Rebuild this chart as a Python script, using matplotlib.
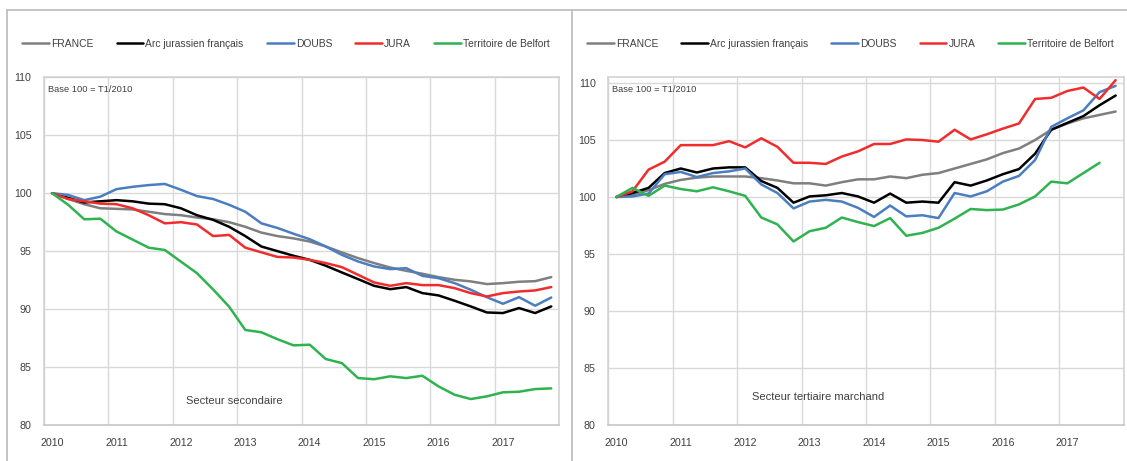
import matplotlib
matplotlib.use('Agg')
import matplotlib.pyplot as plt
import matplotlib.ticker as ticker
from matplotlib.lines import Line2D
import numpy as np

# ========== data (index 100 = T1/2010, quarterly) ========== #
years = ['2010', '2011', '2012', '2013', '2014', '2015', '2016', '2017']
series_names = ['FRANCE', 'Arc jurassien français', 'DOUBS', 'JURA', 'Territoire de Belfort']

# secteur secondaire
sec_france = [100, 99.5, 99.05, 98.7, 98.65, 98.6, 98.4, 98.2, 98.1, 97.9, 97.75, 97.5,
              97.1, 96.6, 96.3, 96.1, 95.83, 95.4, 94.89, 94.4, 93.97, 93.59, 93.3, 93.05,
              92.76, 92.53, 92.39, 92.16, 92.24, 92.36, 92.41, 92.76]
sec_arc = [100, 99.6, 99.2, 99.3, 99.4, 99.3, 99.1, 99.05, 98.7, 98.1, 97.7, 97.1,
           96.3, 95.4, 95.0, 94.6, 94.25, 93.74, 93.16, 92.59, 92.01, 91.72, 91.9, 91.38,
           91.18, 90.72, 90.23, 89.71, 89.66, 90.09, 89.66, 90.23]
sec_doubs = [100, 99.85, 99.4, 99.7, 100.35, 100.55, 100.7, 100.8, 100.3, 99.75, 99.5, 99.0,
             98.4, 97.4, 97.0, 96.5, 96.03, 95.4, 94.68, 94.11, 93.68, 93.45, 93.53, 92.87,
             92.67, 92.24, 91.67, 91.03, 90.46, 91.03, 90.29, 91.0]
sec_jura = [100, 99.5, 99.3, 99.1, 99.05, 98.7, 98.1, 97.4, 97.5, 97.3, 96.3, 96.4,
            95.3, 94.9, 94.5, 94.45, 94.25, 93.97, 93.62, 92.96, 92.3, 92.01, 92.24, 92.07,
            92.07, 91.81, 91.38, 91.09, 91.38, 91.52, 91.61, 91.9]
sec_belfort = [100, 99.0, 97.75, 97.8, 96.7, 96.0, 95.3, 95.1, 94.1, 93.1, 91.7, 90.2,
               88.2, 88.0, 87.4, 86.87, 86.93, 85.69, 85.34, 84.05, 83.95, 84.2, 84.05, 84.25,
               83.33, 82.61, 82.24, 82.47, 82.82, 82.87, 83.1, 83.16]

# secteur tertiaire marchand
ter_france = [100, 100.2, 100.6, 101.15, 101.5, 101.7, 101.8, 101.8, 101.8, 101.65, 101.45, 101.2,
              101.2, 101.0, 101.3, 101.55, 101.55, 101.8, 101.65, 101.95, 102.1, 102.5, 102.9, 103.3,
              103.85, 104.25, 105.0, 105.9, 106.45, 106.9, 107.2, 107.5]
ter_arc = [100, 100.35, 100.8, 102.1, 102.5, 102.15, 102.5, 102.6, 102.6, 101.4, 100.8, 99.5,
           100.05, 100.15, 100.35, 100.05, 99.5, 100.3, 99.5, 99.6, 99.5, 101.3, 101.0, 101.45,
           102.0, 102.45, 103.8, 105.9, 106.5, 107.1, 108.05, 108.9]
ter_doubs = [100, 100.05, 100.3, 102.0, 102.2, 101.75, 102.1, 102.25, 102.5, 101.1, 100.35, 99.0,
             99.6, 99.75, 99.6, 99.05, 98.25, 99.25, 98.3, 98.4, 98.15, 100.35, 100.05, 100.5,
             101.35, 101.85, 103.25, 106.15, 106.9, 107.6, 109.2, 109.75]
ter_jura = [100, 100.5, 102.4, 103.1, 104.55, 104.55, 104.55, 104.9, 104.35, 105.15, 104.4, 103.0,
            103.0, 102.9, 103.55, 104.0, 104.65, 104.65, 105.05, 105.0, 104.85, 105.9, 105.05, 105.5,
            106.0, 106.45, 108.6, 108.7, 109.3, 109.6, 108.6, 110.25]
ter_belfort = [100, 100.8, 100.1, 101.0, 100.7, 100.5, 100.85, 100.5, 100.1, 98.2, 97.6, 96.1,
               97.0, 97.3, 98.2, 97.8, 97.45, 98.15, 96.6, 96.85, 97.3, 98.1, 98.95, 98.85,
               98.9, 99.35, 100.05, 101.35, 101.2, 102.1, 103.0]

# ========== style ========== #
colors = ['#7f7f7f', '#000000', '#4a7ec0', '#f02c2c', '#2fb350']
lineWidth = 1.8
gridColor = '#d9d9d9'
textColor = '#404040'
tickSize = 7.7
legendSize = 7.4
W, H = 1127, 461

plt.rcParams.update({'font.size': tickSize,
                     'font.family': ['Liberation Sans', 'DejaVu Sans']})

fig = plt.figure(figsize=(W / 100, H / 100), dpi=100)


def px_axes(x0, y0, x1, y1):
    # pixel box (top-left origin) -> figure fraction
    return fig.add_axes([x0 / W, (H - y1) / H, (x1 - x0) / W, (y1 - y0) / H])


def post_process(ax, panel, ymax, label, label_pos, legend_x0, legend_x1):
    for vals, name, clr in zip(panel, series_names, colors):
        ax.plot(np.arange(len(vals)), vals, color=clr, lw=lineWidth, label=name,
                solid_joinstyle='round', solid_capstyle='round')

    n = 4 * len(years)
    ax.set_xlim(-0.5, n - 0.5)
    ax.set_ylim(80, ymax)
    ax.set_xticks(np.arange(0, n, 4))
    ax.set_xticklabels(years)
    ax.set_xticks(np.arange(-0.5, n, 4), minor=True)
    ax.set_yticks(np.arange(80, 111, 5))
    ax.yaxis.set_major_formatter(ticker.FormatStrFormatter('%d'))
    ax.tick_params(which='both', length=0, colors=textColor, labelsize=tickSize)
    ax.tick_params(axis='y', pad=9)
    ax.tick_params(axis='x', pad=9)
    ax.grid(axis='y', which='major', color=gridColor, lw=1.0)
    ax.grid(axis='x', which='minor', color=gridColor, lw=1.0)
    ax.set_axisbelow(True)
    for s in ax.spines.values():
        s.set_color('#d0d0d0')
        s.set_linewidth(1.1)
    ax.spines['bottom'].set_color('#c4c4c4')

    ax.text(0.008, 0.966, 'Base 100 = T1/2010', transform=ax.transAxes,
            ha='left', va='center', fontsize=6.7, color=textColor)
    ax.text(label_pos[0], label_pos[1], label, transform=ax.transAxes,
            ha='center', va='center', fontsize=8, color=textColor)

    # legend stretched over the panel width, like the Excel one
    ax.legend(loc='center left',
              bbox_to_anchor=(legend_x0 / W, 1 - 44 / H, (legend_x1 - legend_x0) / W, 0),
              bbox_transform=fig.transFigure, ncol=5, mode='expand', frameon=False,
              borderpad=0, borderaxespad=0, handlelength=2.6, handletextpad=0.2,
              prop={'size': legendSize}, labelcolor=textColor)


ax1 = px_axes(44, 77.3, 559.3, 425)
post_process(ax1, [sec_france, sec_arc, sec_doubs, sec_jura, sec_belfort], 110,
             'Secteur secondaire', (0.369, 0.069), 22, 550)

ax2 = px_axes(608.3, 77.3, 1123.7, 425)
post_process(ax2, [ter_france, ter_arc, ter_doubs, ter_jura, ter_belfort], 110.5,
             'Secteur tertiaire marchand', (0.407, 0.081), 587, 1114)

# panel frames
frameColor = '#bfbfbf'
for xs, ys in [([6.5, 6.5], [H, 10.5]), ([6.5, 1127], [10.5, 10.5]), ([571.5, 571.5], [10.5, H])]:
    fig.add_artist(Line2D([x / W for x in xs], [1 - y / H for y in ys],
                          transform=fig.transFigure, color=frameColor, lw=1.3))

fig.savefig('out.png', dpi=100)
